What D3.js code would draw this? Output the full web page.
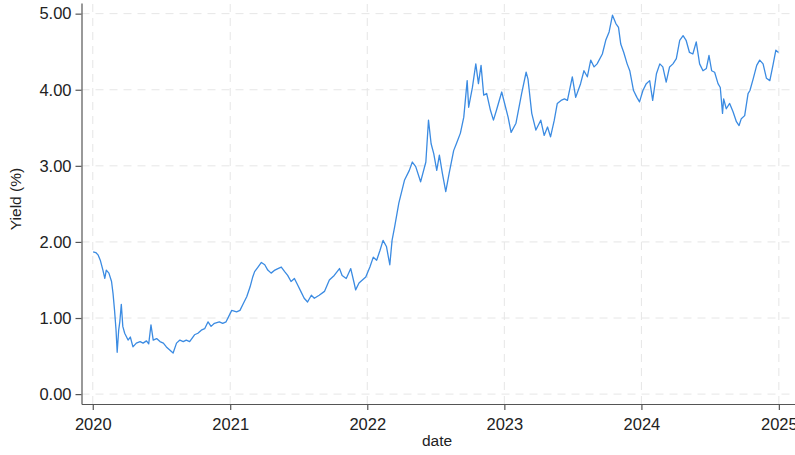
<!DOCTYPE html>
<html>
<head>
<meta charset="utf-8">
<script src="https://cdn.jsdelivr.net/npm/d3@7"></script>
<style>
  body { margin: 0; background: #fff; }
  svg { display: block; font-family: "Liberation Sans", Arial, Helvetica, sans-serif; }
</style>
</head>
<body>
<div id="chart"></div>
<script>
// dates and yields (roughly weekly)
const dates2020 = ["2020-01-02","2020-01-09","2020-01-15","2020-01-21","2020-01-28","2020-02-02","2020-02-06","2020-02-13","2020-02-20","2020-02-24","2020-02-28","2020-03-03","2020-03-06","2020-03-10","2020-03-13","2020-03-17","2020-03-21","2020-03-26","2020-03-30","2020-04-04","2020-04-10","2020-04-17","2020-04-26","2020-05-06","2020-05-14","2020-05-23","2020-05-29","2020-06-04","2020-06-10","2020-06-19","2020-06-28","2020-07-07","2020-07-15","2020-07-24","2020-08-02","2020-08-11","2020-08-20","2020-08-29","2020-09-06","2020-09-15","2020-09-28","2020-10-07","2020-10-16","2020-10-25","2020-11-03","2020-11-11","2020-11-20","2020-12-03","2020-12-12","2020-12-21"];
const yields2020 = [1.87,1.86,1.83,1.76,1.63,1.52,1.63,1.59,1.48,1.32,1.10,0.84,0.55,0.84,0.95,1.18,0.89,0.80,0.76,0.71,0.75,0.62,0.67,0.69,0.67,0.70,0.66,0.91,0.71,0.73,0.69,0.67,0.62,0.58,0.54,0.67,0.71,0.69,0.71,0.69,0.78,0.80,0.84,0.86,0.95,0.89,0.93,0.95,0.93,0.95];

const dates2021 = ["2021-01-05","2021-01-18","2021-01-27","2021-02-05","2021-02-14","2021-02-23","2021-03-02","2021-03-07","2021-03-16","2021-03-25","2021-04-03","2021-04-11","2021-04-20","2021-04-30","2021-05-08","2021-05-17","2021-05-26","2021-06-03","2021-06-12","2021-06-21","2021-06-30","2021-07-08","2021-07-17","2021-07-26","2021-08-05","2021-08-13","2021-08-26","2021-09-09","2021-09-22","2021-10-05","2021-10-19","2021-10-26","2021-11-06","2021-11-18","2021-11-27","2021-12-01","2021-12-10","2021-12-19","2021-12-28"];
const yields2021 = [1.10,1.08,1.10,1.19,1.28,1.41,1.54,1.61,1.67,1.73,1.70,1.63,1.59,1.63,1.65,1.67,1.61,1.56,1.48,1.52,1.43,1.35,1.26,1.21,1.30,1.26,1.30,1.35,1.50,1.56,1.65,1.56,1.52,1.65,1.46,1.37,1.46,1.50,1.54];

const dates2022 = ["2022-01-08","2022-01-17","2022-01-26","2022-02-04","2022-02-12","2022-02-21","2022-03-02","2022-03-08","2022-03-15","2022-03-26","2022-04-10","2022-04-23","2022-05-01","2022-05-10","2022-05-23","2022-06-06","2022-06-13","2022-06-20","2022-06-27","2022-07-05","2022-07-12","2022-07-20","2022-07-29","2022-08-07","2022-08-19","2022-08-27","2022-09-06","2022-09-15","2022-09-24","2022-09-28","2022-10-08","2022-10-17","2022-10-24","2022-10-31","2022-11-07","2022-11-15","2022-11-25","2022-12-03","2022-12-11","2022-12-25"];
const yields2022 = [1.67,1.80,1.76,1.89,2.02,1.94,1.70,2.02,2.20,2.51,2.81,2.94,3.05,2.99,2.79,3.05,3.60,3.29,3.16,2.94,3.14,2.90,2.66,2.90,3.20,3.30,3.43,3.64,4.12,3.77,4.03,4.34,4.08,4.32,3.93,3.95,3.73,3.60,3.73,3.97];

const dates2023 = ["2023-01-11","2023-01-19","2023-02-01","2023-02-16","2023-02-28","2023-03-05","2023-03-15","2023-03-26","2023-04-08","2023-04-17","2023-04-26","2023-05-04","2023-05-14","2023-05-22","2023-06-01","2023-06-10","2023-06-18","2023-07-01","2023-07-10","2023-07-23","2023-08-01","2023-08-10","2023-08-19","2023-08-28","2023-09-05","2023-09-19","2023-09-28","2023-10-07","2023-10-16","2023-10-25","2023-11-01","2023-11-07","2023-11-15","2023-11-24","2023-12-01","2023-12-11","2023-12-20","2023-12-27"];
const yields2023 = [3.64,3.44,3.56,3.95,4.23,4.14,3.69,3.47,3.60,3.40,3.51,3.38,3.60,3.82,3.86,3.88,3.86,4.17,3.90,4.08,4.25,4.17,4.39,4.30,4.34,4.47,4.65,4.76,4.98,4.87,4.82,4.60,4.49,4.34,4.25,3.99,3.90,3.84];

const dates2024 = ["2024-01-05","2024-01-14","2024-01-23","2024-01-31","2024-02-10","2024-02-19","2024-02-27","2024-03-07","2024-03-16","2024-03-25","2024-04-03","2024-04-12","2024-04-21","2024-04-29","2024-05-08","2024-05-17","2024-05-26","2024-06-04","2024-06-13","2024-06-22","2024-06-29","2024-07-06","2024-07-14","2024-07-23","2024-07-29","2024-08-04","2024-08-07","2024-08-14","2024-08-23","2024-09-01","2024-09-10","2024-09-17","2024-09-23","2024-10-02","2024-10-11","2024-10-16","2024-10-25","2024-11-03","2024-11-11","2024-11-20","2024-11-29","2024-12-08","2024-12-17","2024-12-24","2024-12-31"];
const yields2024 = [3.99,4.08,4.12,3.86,4.21,4.34,4.30,4.10,4.30,4.34,4.41,4.65,4.71,4.65,4.49,4.47,4.63,4.34,4.25,4.28,4.45,4.25,4.23,4.08,4.03,3.69,3.88,3.75,3.82,3.71,3.58,3.53,3.62,3.66,3.95,3.99,4.15,4.32,4.39,4.34,4.15,4.12,4.34,4.52,4.49];

const yTicks = [0, 1, 2, 3, 4, 5];
const xTickYears = [2020, 2021, 2022, 2023, 2024, 2025];

const width = 795, height = 455;
const parse = d3.timeParse("%Y-%m-%d");

const dates = [].concat(dates2020, dates2021, dates2022, dates2023, dates2024);
const yields = [].concat(yields2020, yields2021, yields2022, yields2023, yields2024);
const data = dates.map((d, i) => ({ date: parse(d), v: yields[i] }));

const svg = d3.select("#chart").append("svg")
  .attr("width", width)
  .attr("height", height);

const x = d3.scaleTime()
  .domain([new Date(2019, 11, 2), new Date(2025, 1, 13)])
  .range([81.5, 795]);

const y = d3.scaleLinear()
  .domain([-0.13, 5.14])
  .range([404, 3]);

const grid = svg.append("g")
  .attr("stroke", "#e6e6e6")
  .attr("stroke-width", 1)
  .attr("stroke-dasharray", "8,6");

grid.selectAll("line.h")
  .data(yTicks)
  .join("line")
  .attr("class", "h")
  .attr("x1", x.range()[0])
  .attr("x2", x.range()[1])
  .attr("y1", d => y(d))
  .attr("y2", d => y(d));

grid.selectAll("line.v")
  .data(xTickYears)
  .join("line")
  .attr("class", "v")
  .attr("x1", d => x(new Date(d, 0, 1)))
  .attr("x2", d => x(new Date(d, 0, 1)))
  .attr("y1", y.range()[0])
  .attr("y2", y.range()[1]);

const line = d3.line()
  .x(d => x(d.date))
  .y(d => y(d.v));

svg.append("path")
  .datum(data)
  .attr("fill", "none")
  .attr("stroke", "#3b8be2")
  .attr("stroke-width", 1.3)
  .attr("stroke-linejoin", "round")
  .attr("d", line);

const yAxis = svg.append("g")
  .attr("transform", `translate(${x.range()[0]},0)`)
  .call(d3.axisLeft(y)
    .tickValues(yTicks)
    .tickFormat(d3.format(".2f"))
    .tickSize(6)
    .tickSizeOuter(0)
    .tickPadding(4));

const xAxis = svg.append("g")
  .attr("transform", `translate(0,${y.range()[0]})`)
  .call(d3.axisBottom(x)
    .tickValues(xTickYears.map(d => new Date(d, 0, 1)))
    .tickFormat(d3.timeFormat("%Y"))
    .tickSize(6)
    .tickSizeOuter(0)
    .tickPadding(8));

[yAxis, xAxis].forEach(a => {
  a.select(".domain").attr("stroke", "#555").attr("stroke-width", 1.2);
  a.selectAll(".tick line").attr("stroke", "#555").attr("stroke-width", 1.2);
  a.selectAll(".tick text")
    .attr("fill", "#222")
    .style("font-size", "16.5px")
    .style("font-family", "\"Liberation Sans\", Arial, sans-serif");
});

svg.append("text")
  .attr("transform", "translate(21,199) rotate(-90)")
  .attr("text-anchor", "middle")
  .style("font-size", "15.5px")
  .attr("fill", "#222")
  .text("Yield (%)");

svg.append("text")
  .attr("x", 437)
  .attr("y", 446)
  .attr("text-anchor", "middle")
  .style("font-size", "15.5px")
  .attr("fill", "#222")
  .text("date");
</script>
</body>
</html>
